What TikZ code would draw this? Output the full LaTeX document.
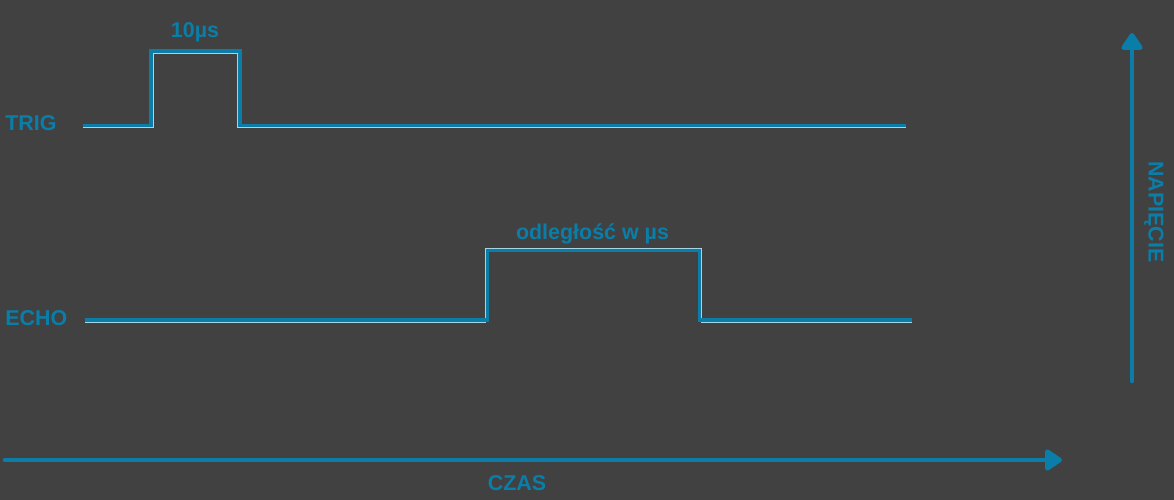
\documentclass[tikz,border=0pt]{standalone}
\usepackage{fontspec}
\setmainfont{Liberation Sans}
\usepackage{xcolor}
\definecolor{fond}{HTML}{414141}
\definecolor{bleu}{HTML}{0A7EA8}
\definecolor{reflet}{HTML}{A6D6E6}
\usetikzlibrary{arrows.meta}

\begin{document}
\begin{tikzpicture}[x=0.02cm,y=-0.02cm,
  lbl/.style={text=bleu,font=\fontsize{12.2}{14}\selectfont\bfseries,inner sep=0pt,anchor=base},
  sig/.style={bleu,line width=2.2pt},
  glint/.style={reflet,line width=0.5pt},
  axis/.style={bleu,line width=2.6pt,line cap=round,-{Triangle[length=10.8pt,width=13.6pt,round]}}
]
\path[use as bounding box,fill=fond] (0,0) rectangle (1174,500);
% ---- sygnaly ----
\draw[glint] (83,127.8) -| (153.3,53.3) -| (237.7,127.8) -- (906,127.8);
\draw[sig]   (83,125.5) -| (151,51) -| (240,125.5) -- (906,125.5);
\draw[glint] (85,322.3) -| (485.2,248.2) -| (701.8,322.3) -- (912,322.3);
\draw[sig]   (85,320) -| (487.5,250.5) -| (699.5,320) -- (912,320);
% ---- opisy ----
\node[lbl,anchor=base west] (trig) at (5,131) {TRIG};
\node[lbl,anchor=base west] (echo) at (5,325.5) {ECHO};
\node[lbl] (impuls) at (195,37.3) {10µs};
\node[lbl] (odleglosc) at (592.5,239) {odległość w µs};
\node[lbl] (czas) at (517,490.7) {CZAS};
\node[lbl,rotate=-90] (napiecie) at (1148.5,212) {NAPIĘCIE};
% ---- osie ----
\coordinate (t0) at (5,460);
\coordinate (t1) at (1062,460);
\coordinate (v0) at (1132,381);
\coordinate (v1) at (1132,33);
\draw[axis] (t0) -- (t1);
\draw[axis] (v0) -- (v1);
\end{tikzpicture}
\end{document}
